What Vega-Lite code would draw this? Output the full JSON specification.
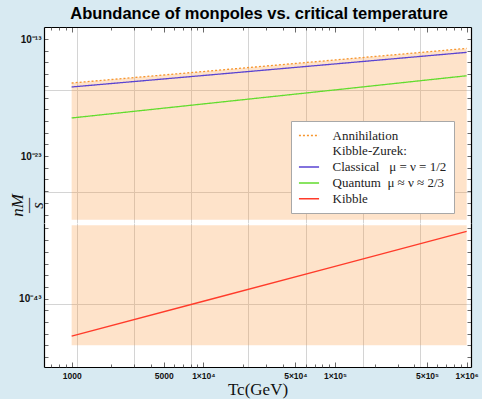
{
  "$schema": "https://vega.github.io/schema/vega-lite/v6.json",
  "background": "#d8eaf2",
  "padding": {"left": 8, "top": 6, "right": 8, "bottom": 2},
  "title": {"text": "Abundance of monpoles vs. critical temperature", "font": "Liberation Sans", "fontSize": 16.5, "fontWeight": "bold", "color": "#000", "anchor": "middle", "offset": 4, "dx": 16},
  "datasets": {
    "lines": [
      {"T": 1000, "n": 1.74e-17, "series": "Annihilation"},
      {"T": 10000, "n": 1.66e-16, "series": "Annihilation"},
      {"T": 100000, "n": 1.62e-15, "series": "Annihilation"},
      {"T": 1000000, "n": 1.58e-14, "series": "Annihilation"},
      {"T": 1000, "n": 7.94e-18, "series": "\u00a0Classical\u00a0\u00a0\u00a0μ\u00a0=\u00a0ν\u00a0=\u00a01/2"},
      {"T": 10000, "n": 7.59e-17, "series": "\u00a0Classical\u00a0\u00a0\u00a0μ\u00a0=\u00a0ν\u00a0=\u00a01/2"},
      {"T": 100000, "n": 7.41e-16, "series": "\u00a0Classical\u00a0\u00a0\u00a0μ\u00a0=\u00a0ν\u00a0=\u00a01/2"},
      {"T": 1000000, "n": 7.24e-15, "series": "\u00a0Classical\u00a0\u00a0\u00a0μ\u00a0=\u00a0ν\u00a0=\u00a01/2"},
      {"T": 1000, "n": 1.78e-20, "series": "\u00a0Quantum\u00a0\u00a0μ\u00a0≈\u00a0ν\u00a0≈\u00a02/3"},
      {"T": 10000, "n": 2.82e-19, "series": "\u00a0Quantum\u00a0\u00a0μ\u00a0≈\u00a0ν\u00a0≈\u00a02/3"},
      {"T": 100000, "n": 4.47e-18, "series": "\u00a0Quantum\u00a0\u00a0μ\u00a0≈\u00a0ν\u00a0≈\u00a02/3"},
      {"T": 1000000, "n": 7.24e-17, "series": "\u00a0Quantum\u00a0\u00a0μ\u00a0≈\u00a0ν\u00a0≈\u00a02/3"}
    ],
    "kibble": [
      {"T": 1000, "n": 6.31e-47},
      {"T": 10000, "n": 6.03e-44},
      {"T": 100000, "n": 5.89e-41},
      {"T": 1000000, "n": 5.75e-38}
    ],
    "bandHigh": [
      {"T": 1000, "top": 1.74e-17, "bottom": 3.63e-29},
      {"T": 10000, "top": 1.66e-16, "bottom": 3.63e-29},
      {"T": 100000, "top": 1.62e-15, "bottom": 3.63e-29},
      {"T": 1000000, "top": 1.58e-14, "bottom": 3.63e-29}
    ],
    "bandLow": [
      {"T": 1000, "top": 1.86e-37, "bottom": 1.05e-47},
      {"T": 1000000, "top": 1.86e-37, "bottom": 1.05e-47}
    ]
  },
  "spacing": 0,
  "bounds": "flush",
  "resolve": {"legend": {"color": "independent", "strokeDash": "independent"}},
  "vconcat": [
    {
      "width": 427,
      "height": 196,
      "resolve": {"axis": {"x": "independent", "y": "independent"}},
      "layer": [
        {
          "data": {"name": "bandHigh"},
          "mark": {"type": "area", "color": "#fa963c", "opacity": 0.27},
          "encoding": {
            "x": {"field": "T", "type": "quantitative", "scale": {"type": "log", "domain": [616.6, 1079000]},
              "axis": {"orient": "bottom", "values": [1096.63, 2980.96, 8103.08, 22026.47, 59874.14, 162754.79, 442413.39], "grid": true, "gridColor": "#d4d4d4", "labels": false, "ticks": false, "domain": false, "title": null}},
            "y": {"field": "top", "type": "quantitative", "scale": {"type": "log", "domain": [1.879e-29, 1.062e-12]},
              "axis": {"orient": "left", "values": [4.248e-18, 8.756e-27], "grid": true, "gridColor": "#d4d4d4", "labels": false, "ticks": false, "domain": false, "title": null}},
            "y2": {"field": "bottom"}
          }
        },
        {
          "data": {"name": "lines"},
          "mark": {"type": "line", "strokeWidth": 1.3},
          "encoding": {
            "x": {"field": "T", "type": "quantitative", "scale": {"type": "log", "domain": [616.6, 1079000]},
              "axis": {"orient": "top", "values": [1000, 5000, 10000, 50000, 100000, 500000, 1000000], "labels": false, "tickSize": -5, "grid": false, "domain": true, "title": null}},
            "y": {"field": "n", "type": "quantitative", "scale": {"type": "log", "domain": [1.879e-29, 1.062e-12]},
              "axis": {"orient": "left", "values": [1e-13, 1e-14, 1e-15, 1e-16, 1e-17, 1e-18, 1e-19, 1e-20, 1e-21, 1e-22, 1e-23, 1e-24, 1e-25, 1e-26, 1e-27, 1e-28],
                "labelExpr": "abs(log(datum.value)/LN10 + 13) < 0.01 ? '10⁻¹³' : abs(log(datum.value)/LN10 + 23) < 0.01 ? '10⁻²³' : ''",
                "tickSize": -4, "labelPadding": 7, "labelFontSize": 10, "grid": false,
                "title": ["nM", "—", "s"], "titleFont": "Liberation Serif", "titleFontStyle": "italic", "titleFontWeight": "normal", "titleFontSize": 17, "titleLineHeight": 10, "titleX": -27, "titleY": 178, "titleAlign": "center", "titleBaseline": "middle", "titleAngle": -90}},
            "color": {"field": "series", "type": "nominal",
              "scale": {"domain": ["Annihilation", "Kibble-Zurek:", "\u00a0Classical\u00a0\u00a0\u00a0μ\u00a0=\u00a0ν\u00a0=\u00a01/2", "\u00a0Quantum\u00a0\u00a0μ\u00a0≈\u00a0ν\u00a0≈\u00a02/3", "Kibble"], "range": ["#f7962e", "rgba(0,0,0,0)", "#5a44d2", "#62dc2e", "#ff3b2a"]},
              "legend": {"orient": "none", "legendX": 247, "legendY": 94, "title": null, "fillColor": "white", "strokeColor": "#a8a8a8", "padding": 7, "labelFont": "Liberation Serif", "labelFontSize": 13, "labelColor": "#222", "symbolType": "M-1.5,0L1.5,0", "symbolSize": 180, "symbolStrokeWidth": 1.5, "symbolOffset": 3.5, "rowPadding": 0.8, "labelOffset": 16, "labelLimit": 300}},
            "strokeDash": {"field": "series", "type": "nominal",
              "scale": {"domain": ["Annihilation", "Kibble-Zurek:", "\u00a0Classical\u00a0\u00a0\u00a0μ\u00a0=\u00a0ν\u00a0=\u00a01/2", "\u00a0Quantum\u00a0\u00a0μ\u00a0≈\u00a0ν\u00a0≈\u00a02/3", "Kibble"], "range": [[2, 2], [1, 0], [1, 0], [1, 0], [1, 0]]},
              "legend": {"orient": "none", "legendX": 247, "legendY": 94, "title": null, "fillColor": "white", "strokeColor": "#a8a8a8", "padding": 7, "labelFont": "Liberation Serif", "labelFontSize": 13, "labelColor": "#222", "symbolType": "M-1.5,0L1.5,0", "symbolSize": 180, "symbolStrokeWidth": 1.5, "symbolOffset": 3.5, "rowPadding": 0.8, "labelOffset": 16, "labelLimit": 300}}
          }
        },
        {
          "data": {"name": "lines"},
          "mark": {"type": "line", "opacity": 0},
          "encoding": {
            "x": {"field": "T", "type": "quantitative", "scale": {"type": "log", "domain": [616.6, 1079000]},
              "axis": {"orient": "top", "values": [700, 800, 900, 2000, 3000, 4000, 6000, 7000, 8000, 9000, 20000, 30000, 40000, 60000, 70000, 80000, 90000, 200000, 300000, 400000, 600000, 700000, 800000, 900000], "labels": false, "tickSize": -3, "grid": false, "domain": false, "title": null}},
            "y": {"field": "n", "type": "quantitative", "scale": {"type": "log", "domain": [1.879e-29, 1.062e-12]},
              "axis": {"orient": "right", "values": [1e-13, 1e-14, 1e-15, 1e-16, 1e-17, 1e-18, 1e-19, 1e-20, 1e-21, 1e-22, 1e-23, 1e-24, 1e-25, 1e-26, 1e-27, 1e-28], "labels": false, "tickSize": -4, "grid": false, "title": null}},
            "detail": {"field": "series"}
          }
        },
        {
          "mark": {"type": "point", "shape": "M-1,-0.05L1,-0.55M-1,0.55L1,0.05", "size": 256, "stroke": "#000", "strokeWidth": 1, "filled": false, "opacity": 1},
          "encoding": {
            "x": {"datum": 616.6, "type": "quantitative", "scale": {"type": "log", "domain": [616.6, 1079000]}, "axis": null},
            "y": {"datum": 1.879e-29, "type": "quantitative", "scale": {"type": "log", "domain": [1.879e-29, 1.062e-12]}, "axis": null}
          }
        },
        {
          "mark": {"type": "point", "shape": "M-1,-0.05L1,-0.55M-1,0.55L1,0.05", "size": 256, "stroke": "#000", "strokeWidth": 1, "filled": false, "opacity": 1},
          "encoding": {
            "x": {"datum": 1079000, "type": "quantitative", "scale": {"type": "log", "domain": [616.6, 1079000]}, "axis": null},
            "y": {"datum": 1.879e-29, "type": "quantitative", "scale": {"type": "log", "domain": [1.879e-29, 1.062e-12]}, "axis": null}
          }
        }
      ]
    },
    {
      "width": 427,
      "height": 144,
      "resolve": {"axis": {"x": "independent", "y": "independent"}},
      "layer": [
        {
          "data": {"name": "bandLow"},
          "mark": {"type": "area", "color": "#fa963c", "opacity": 0.27},
          "encoding": {
            "x": {"field": "T", "type": "quantitative", "scale": {"type": "log", "domain": [616.6, 1079000]},
              "axis": {"orient": "bottom", "values": [1096.63, 2980.96, 8103.08, 22026.47, 59874.14, 162754.79, 442413.39], "grid": true, "gridColor": "#d4d4d4", "labels": false, "ticks": false, "domain": false, "title": null}},
            "y": {"field": "top", "type": "quantitative", "scale": {"type": "log", "domain": [1.445e-49, 2.95e-37]},
              "axis": {"orient": "left", "values": [3.72e-44], "grid": true, "gridColor": "#d4d4d4", "labels": false, "ticks": false, "domain": false, "title": null}},
            "y2": {"field": "bottom"}
          }
        },
        {
          "data": {"name": "kibble"},
          "mark": {"type": "line", "strokeWidth": 1.3, "color": "#ff3b2a"},
          "encoding": {
            "x": {"field": "T", "type": "quantitative", "scale": {"type": "log", "domain": [616.6, 1079000]},
              "axis": {"orient": "bottom", "values": [1000, 5000, 10000, 50000, 100000, 500000, 1000000],
                "labelExpr": "datum.value == 1000 ? '1000' : datum.value == 5000 ? '5000' : datum.value == 10000 ? '1×10⁴' : datum.value == 50000 ? '5×10⁴' : datum.value == 100000 ? '1×10⁵' : datum.value == 500000 ? '5×10⁵' : '1×10⁶'",
                "tickSize": -5, "labelPadding": 9, "grid": false, "labelFlush": false, "labelOverlap": false,
                "title": "Tc(GeV)", "titleFont": "Liberation Serif", "titleFontWeight": "normal", "titleFontSize": 17, "titlePadding": 2}},
            "y": {"field": "n", "type": "quantitative", "scale": {"type": "log", "domain": [1.445e-49, 2.95e-37]},
              "axis": {"orient": "left", "values": [1e-37, 1e-38, 1e-39, 1e-40, 1e-41, 1e-42, 1e-43, 1e-44, 1e-45, 1e-46, 1e-47, 1e-48],
                "labelExpr": "abs(log(datum.value)/LN10 + 43) < 0.01 ? '10⁻⁴³' : ''",
                "tickSize": -4, "labelPadding": 7, "labelFontSize": 10, "grid": false, "title": null}}
          }
        },
        {
          "data": {"name": "kibble"},
          "mark": {"type": "line", "opacity": 0},
          "encoding": {
            "x": {"field": "T", "type": "quantitative", "scale": {"type": "log", "domain": [616.6, 1079000]},
              "axis": {"orient": "bottom", "values": [700, 800, 900, 2000, 3000, 4000, 6000, 7000, 8000, 9000, 20000, 30000, 40000, 60000, 70000, 80000, 90000, 200000, 300000, 400000, 600000, 700000, 800000, 900000], "labels": false, "tickSize": -3, "grid": false, "domain": false, "title": null}},
            "y": {"field": "n", "type": "quantitative", "scale": {"type": "log", "domain": [1.445e-49, 2.95e-37]},
              "axis": {"orient": "right", "values": [1e-37, 1e-38, 1e-39, 1e-40, 1e-41, 1e-42, 1e-43, 1e-44, 1e-45, 1e-46, 1e-47, 1e-48], "labels": false, "tickSize": -4, "grid": false, "title": null}}
          }
        }
      ]
    }
  ],
  "config": {
    "view": {"stroke": null, "fill": "white"},
    "axis": {"labelFont": "Liberation Sans", "labelFontWeight": "bold", "labelFontSize": 8.5, "labelColor": "#111", "domainColor": "#000", "domainWidth": 1.2, "tickColor": "#444", "tickWidth": 0.8, "titleColor": "#111"}
  }
}
